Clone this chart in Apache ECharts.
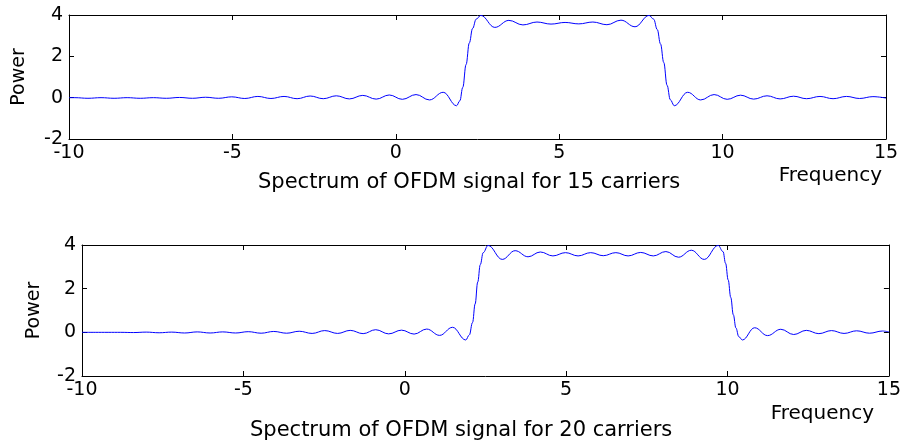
<!DOCTYPE html>
<html>
<head>
<meta charset="utf-8">
<script src="https://cdn.jsdelivr.net/npm/echarts@6/dist/echarts.min.js"></script>
<style>
html,body{margin:0;padding:0;background:#fff;}
#chart{width:904px;height:447px;}
</style>
</head>
<body>
<div id="chart"></div>
<script>
// ---- Data ----
const xTicks = [-10, -5, 0, 5, 10, 15];
const yTicks = [-2, 0, 2, 4];

const titleTop = "Spectrum of OFDM signal for 15 carriers";
const titleBottom = "Spectrum of OFDM signal for 20 carriers";
const xName = "Frequency";
const yName = "Power";

// 15 carriers
const freq15 = [-10, -9.82, -9.42, -9.02, -8.62, -8.22, -7.82, -7.42, -7.02, -6.62, -6.22, -5.82, -5.42, -5.02, -4.62, -4.22, -3.82, -3.42, -3.02, -2.62, -2.22, -1.82, -1.42, -1.01, -0.6, -0.2, 0.2, 0.62, 1.03, 1.45, 1.86,
  1.96, 2.05, 2.15, 2.25, 2.35, 2.46, 2.6,
  3.03, 3.46, 3.89, 4.32, 4.75, 5.18, 5.6, 6.03, 6.46, 6.89, 7.32, 7.75,
  7.89, 8.0, 8.1, 8.2, 8.3, 8.4, 8.52,
  8.93, 9.33, 9.74, 10.14, 10.55, 10.95, 11.36, 11.76, 12.17, 12.57, 12.98, 13.38, 13.79, 14.19, 14.6, 15.0];
const power15 = [0, 0.0, -0.03, 0.0, -0.03, 0.0, -0.03, 0.0, -0.03, 0.01, -0.03, 0.02, -0.03, 0.04, -0.04, 0.06, -0.04, 0.06, -0.05, 0.08, -0.05, 0.09, -0.06, 0.11, -0.07, 0.13, -0.08, 0.15, -0.11, 0.26, -0.39,
  -0.15, 0.5, 1.6, 2.65, 3.35, 3.8, 3.98,
  3.40, 3.74, 3.52, 3.66, 3.56, 3.64, 3.57, 3.66, 3.53, 3.75, 3.43, 3.98,
  3.8, 3.3, 2.6, 1.7, 0.6, -0.1, -0.39,
  0.26, -0.11, 0.15, -0.08, 0.12, -0.07, 0.09, -0.06, 0.07, -0.05, 0.06, -0.05, 0.06, -0.04, 0.05, -0.02];

// 20 carriers
const freq20 = [-10, -9.59, -9.19, -8.8, -8.4, -8.01, -7.61, -7.22, -6.82, -6.43, -6.03, -5.64, -5.24, -4.85, -4.45, -4.06, -3.66, -3.27, -2.87, -2.48, -2.08, -1.69, -1.29, -0.9, -0.5, -0.1, 0.29, 0.68, 1.08, 1.48, 1.89,
  2.0, 2.1, 2.18, 2.26, 2.34, 2.43, 2.58,
  3.02, 3.42, 3.82, 4.2, 4.59, 4.98, 5.37, 5.76, 6.15, 6.54, 6.92, 7.31, 7.7, 8.09, 8.48, 8.88, 9.28, 9.71,
  9.86, 9.94, 10.02, 10.1, 10.18, 10.26, 10.35, 10.46,
  10.84, 11.24, 11.65, 12.05, 12.44, 12.83, 13.22, 13.61, 14.0, 14.4, 14.8, 15.0];
const power20 = [0, 0, 0, 0, -0.01, 0.01, -0.02, 0.01, -0.03, 0.02, -0.03, 0.02, -0.03, 0.03, -0.04, 0.04, -0.04, 0.05, -0.05, 0.08, -0.05, 0.09, -0.06, 0.12, -0.07, 0.1, -0.08, 0.15, -0.14, 0.23, -0.35,
  -0.12, 0.45, 1.3, 2.3, 3.1, 3.65, 3.98,
  3.34, 3.74, 3.46, 3.68, 3.5, 3.65, 3.5, 3.65, 3.51, 3.65, 3.5, 3.66, 3.5, 3.7, 3.44, 3.76, 3.34, 3.98,
  3.7, 3.16, 2.4, 1.6, 0.8, 0.2, -0.2, -0.35,
  0.21, -0.15, 0.14, -0.1, 0.09, -0.06, 0.08, -0.05, 0.07, -0.04, 0.06, 0.02];

// ---- Chart ----
const FONT = "DejaVu Sans";
const zip = (xs, ys) => xs.map((x, i) => [x, ys[i]]);

function xAx(gi, pos, labels) {
  return {
    type: 'value', gridIndex: gi, position: pos,
    min: xTicks[0], max: xTicks[xTicks.length - 1], interval: xTicks[1] - xTicks[0],
    axisLine: { show: true, onZero: false, lineStyle: { color: '#000', width: 1 } },
    axisTick: { show: true, inside: true, length: 5, lineStyle: { color: '#000' } },
    axisLabel: { show: labels, color: '#000', fontFamily: FONT, fontSize: 19, margin: 5, hideOverlap: false, showMinLabel: true, showMaxLabel: true },
    splitLine: { show: false }
  };
}
function yAx(gi, pos, labels, gap) {
  return {
    type: 'value', gridIndex: gi, position: pos,
    min: yTicks[0], max: yTicks[yTicks.length - 1], interval: yTicks[1] - yTicks[0],
    name: labels ? yName : '', nameLocation: 'middle', nameGap: gap, nameRotate: 90,
    nameTextStyle: { color: '#000', fontFamily: FONT, fontSize: 19 },
    axisLine: { show: true, onZero: false, lineStyle: { color: '#000', width: 1 } },
    axisTick: { show: true, inside: true, length: 5, lineStyle: { color: '#000' } },
    axisLabel: { show: labels, color: '#000', fontFamily: FONT, fontSize: 19, margin: 6, showMinLabel: true, showMaxLabel: true },
    splitLine: { show: false }
  };
}

const chart = echarts.init(document.getElementById('chart'), null, { renderer: 'canvas' });
const txt = { color: '#000', fontFamily: FONT, fontWeight: 'normal' };
chart.setOption({
  animation: false,
  backgroundColor: '#fff',
  title: [
    { text: titleTop, left: 258, top: 172, padding: 0, textStyle: Object.assign({ fontSize: 21 }, txt) },
    { text: xName, right: 22, top: 166, padding: 0, textStyle: Object.assign({ fontSize: 20 }, txt) },
    { text: titleBottom, left: 250, top: 420, padding: 0, textStyle: Object.assign({ fontSize: 21 }, txt) },
    { text: xName, right: 30, top: 404, padding: 0, textStyle: Object.assign({ fontSize: 20 }, txt) }
  ],
  grid: [
    { left: 69, top: 15, width: 817, height: 124 },
    { left: 82, top: 245, width: 807, height: 131 }
  ],
  xAxis: [xAx(0, 'bottom', true), xAx(0, 'top', false), xAx(1, 'bottom', true), xAx(1, 'top', false)],
  yAxis: [yAx(0, 'left', true, 40), yAx(0, 'right', false, 0), yAx(1, 'left', true, 38), yAx(1, 'right', false, 0)],
  series: [
    { type: 'line', xAxisIndex: 0, yAxisIndex: 0, data: zip(freq15, power15), showSymbol: false, smooth: 0.4, smoothMonotone: 'x',
      lineStyle: { color: '#0000ff', width: 1 }, itemStyle: { color: '#0000ff' } },
    { type: 'line', xAxisIndex: 2, yAxisIndex: 2, data: zip(freq20, power20), showSymbol: false, smooth: 0.4, smoothMonotone: 'x',
      lineStyle: { color: '#0000ff', width: 1 }, itemStyle: { color: '#0000ff' } }
  ]
});
</script>
</body>
</html>
